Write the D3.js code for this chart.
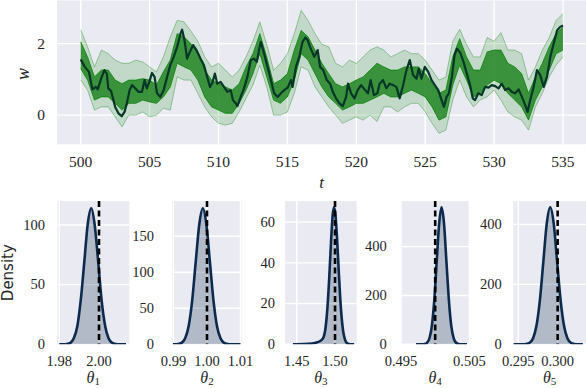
<!DOCTYPE html>
<html>
<head>
<meta charset="utf-8">
<script src="https://cdn.jsdelivr.net/npm/d3@7"></script>
<style>
  body { margin: 0; background: #fff; }
  svg { display: block; }
  svg text { font-family: "Liberation Serif", "DejaVu Serif", "Noto Serif", serif; }
  svg text.sans { font-family: "DejaVu Sans", "Noto Sans", sans-serif; }
</style>
</head>
<body>
<div id="chart"></div>
<script>
// ---- top panel: true path (dark line) ----
var trueT = [500.0, 500.3, 500.6, 500.85, 501.1, 501.24, 501.48, 501.72, 501.9, 502.0, 502.2, 502.5, 502.74, 502.98, 503.18, 503.35, 503.55, 503.72, 503.96, 504.2,
  504.44, 504.64, 504.8, 504.98, 505.17, 505.36, 505.54, 505.78, 506.02, 506.27, 506.5, 506.75, 507.0, 507.24, 507.36, 507.53, 507.72, 507.92, 508.16, 508.4,
  508.7, 508.94, 509.18, 509.38, 509.55, 509.74, 509.91, 510.15, 510.4, 510.64, 510.88, 511.05, 511.25, 511.37, 511.61, 511.85, 512.1, 512.34, 512.58, 512.78,
  512.94, 513.07, 513.31, 513.56, 513.8, 514.04, 514.29, 514.53, 514.77, 515.02, 515.26, 515.38, 515.62, 515.86, 516.1, 516.3, 516.47, 516.64, 516.95, 517.2,
  517.37, 517.6, 517.86, 518.1, 518.3, 518.53, 518.78, 519.02, 519.26, 519.4, 519.62, 519.87, 520.1, 520.35, 520.6, 520.85, 521.04, 521.28, 521.53, 521.69,
  521.94, 522.18, 522.42, 522.67, 522.91, 523.15, 523.4, 523.64, 523.88, 524.12, 524.37, 524.53, 524.73, 524.97, 525.22, 525.46, 525.7, 525.95, 526.19, 526.36,
  526.55, 526.72, 526.94, 527.13, 527.3, 527.54, 527.78, 528.02, 528.26, 528.45, 528.62, 528.86, 529.1, 529.35, 529.59, 529.83, 530.08, 530.32, 530.56, 530.8,
  531.05, 531.29, 531.53, 531.78, 532.02, 532.26, 532.43, 532.62, 532.87, 533.11, 533.35, 533.6, 533.84, 534.08, 534.32, 534.57, 534.81, 535.0];
var trueW = [1.56, 1.35, 1.21, 0.72, 0.79, 0.72, 1.02, 1.26, 1.15, 0.75, 0.68, 0.23, 0.05, -0.03, 0.09, 0.33, 0.70, 0.84, 0.75, 0.65,
  0.65, 0.98, 0.75, 0.93, 1.18, 1.07, 0.61, 0.51, 0.70, 1.07, 1.40, 1.63, 1.91, 2.28, 2.39, 2.10, 1.58, 1.77, 1.96, 1.82,
  1.58, 1.40, 1.07, 0.79, 0.90, 1.16, 0.88, 0.93, 0.79, 0.65, 0.70, 0.42, 0.33, 0.25, 0.51, 0.75, 1.07, 1.54, 1.58, 1.49,
  1.82, 2.05, 1.72, 1.35, 0.98, 0.61, 0.51, 0.61, 0.70, 0.77, 0.98, 0.79, 1.35, 1.63, 2.05, 2.17, 2.10, 1.91, 1.63, 1.82,
  1.35, 1.26, 0.98, 0.88, 0.65, 0.47, 0.33, 0.25, 0.51, 0.88, 0.61, 0.47, 0.70, 0.84, 0.72, 0.61, 0.98, 0.56, 0.61, 0.88,
  0.98, 0.75, 0.88, 0.84, 0.79, 0.47, 0.84, 1.26, 1.54, 1.12, 1.02, 1.30, 1.02, 1.35, 1.21, 0.98, 0.84, 0.70, 0.42, 0.23,
  0.51, 0.61, 1.07, 1.68, 1.86, 1.75, 1.49, 1.16, 0.84, 0.47, 0.42, 0.61, 0.56, 0.79, 0.77, 0.84, 0.81, 0.75, 0.88, 0.70,
  0.75, 0.65, 0.61, 0.72, 0.51, 0.28, 0.09, 0.42, 0.79, 1.26, 1.12, 0.79, 1.07, 1.63, 2.00, 2.37, 2.47, 2.51];

// ---- top panel: sample ensemble, read as envelopes every 0.5 ----
var bandT = [500, 500.5, 501, 501.5, 502, 502.5, 503, 503.5, 504, 504.5, 505, 505.5, 506, 506.5, 507, 507.5, 508, 508.5, 509, 509.5,
  510, 510.5, 511, 511.5, 512, 512.5, 513, 513.5, 514, 514.5, 515, 515.5, 516, 516.5, 517, 517.5, 518, 518.5, 519, 519.5,
  520, 520.5, 521, 521.5, 522, 522.5, 523, 523.5, 524, 524.5, 525, 525.5, 526, 526.5, 527, 527.5, 528, 528.5, 529, 529.5,
  530, 530.5, 531, 531.5, 532, 532.5, 533, 533.5, 534, 534.5, 535];
var outerHi = [2.39, 1.91, 1.35, 1.82, 1.72, 1.54, 1.45, 1.45, 1.54, 1.49, 1.35, 1.21, 1.63, 2.19, 2.65, 2.61, 2.35, 2.07, 1.63, 1.35,
  1.45, 1.26, 1.07, 1.26, 1.63, 2.07, 2.61, 1.98, 1.26, 1.45, 1.72, 2.28, 2.93, 2.65, 2.28, 1.98, 1.91, 1.45, 1.35, 1.54,
  1.45, 1.63, 1.82, 1.91, 1.82, 1.63, 1.72, 1.82, 1.72, 1.72, 1.54, 1.26, 0.98, 1.07, 2.07, 2.40, 1.98, 1.63, 1.63, 2.17,
  2.07, 2.31, 1.82, 1.82, 1.72, 0.98, 1.35, 1.82, 2.17, 2.65, 2.84];
var outerLo = [0.98, 0.70, 0.14, 0.23, 0.23, -0.05, -0.33, 0.00, 0.00, 0.09, -0.05, 0.00, 0.19, 0.14, 1.07, 0.98, 0.98, 0.61, 0.23, -0.05,
  -0.23, -0.28, -0.23, 0.09, 0.47, 0.84, 1.40, 0.79, 0.00, 0.00, 0.09, 0.61, 1.35, 1.26, 0.79, 0.51, 0.23, 0.00, -0.23, -0.14,
  -0.05, -0.14, 0.00, -0.18, 0.23, 0.23, 0.09, 0.23, 0.33, 0.33, 0.09, -0.23, -0.51, -0.42, 0.42, 0.98, 0.51, 0.23, 0.42, 0.51,
  0.70, 0.42, 0.09, -0.05, -0.14, -0.42, 0.23, 0.61, 1.07, 1.40, 1.63];
var coreHi = [2.05, 1.63, 1.07, 1.26, 1.26, 0.98, 0.88, 0.98, 0.98, 1.02, 0.98, 0.84, 1.21, 1.54, 2.28, 2.19, 2.00, 1.72, 1.26, 0.98,
  0.88, 0.79, 0.70, 0.88, 1.35, 1.72, 2.28, 1.63, 0.88, 0.98, 1.16, 1.82, 2.37, 2.19, 1.82, 1.45, 1.16, 0.88, 0.79, 0.88,
  0.98, 1.07, 1.26, 1.45, 1.35, 1.26, 1.26, 1.35, 1.35, 1.35, 1.16, 0.88, 0.61, 0.70, 1.63, 2.14, 1.63, 1.26, 1.26, 1.77,
  1.82, 1.82, 1.45, 1.35, 1.16, 0.61, 1.07, 1.45, 1.91, 2.28, 2.46];
var coreLo = [1.30, 0.98, 0.42, 0.51, 0.51, 0.33, 0.14, 0.33, 0.33, 0.42, 0.37, 0.33, 0.51, 0.79, 1.45, 1.35, 1.26, 0.98, 0.51, 0.23,
  0.14, 0.05, 0.05, 0.33, 0.70, 1.16, 1.72, 1.07, 0.42, 0.33, 0.51, 0.98, 1.72, 1.54, 1.16, 0.79, 0.51, 0.33, 0.14, 0.23,
  0.33, 0.33, 0.42, 0.51, 0.61, 0.51, 0.51, 0.61, 0.70, 0.61, 0.51, 0.23, -0.14, -0.05, 0.84, 1.40, 0.98, 0.51, 0.61, 0.84,
  0.98, 0.88, 0.61, 0.42, 0.23, -0.14, 0.42, 0.79, 1.26, 1.72, 1.82];
var topXTicks = [500, 505, 510, 515, 520, 525, 530, 535];
var topYTicks = [0, 2];

// ---- bottom panels: posterior densities ----
var theta1X = [1.9800, 1.9821, 1.9838, 1.9856, 1.9873, 1.9891, 1.9908, 1.9926, 1.9943, 1.9961, 1.9978, 1.9996, 2.0013, 2.0031, 2.0048, 2.0066, 2.0083, 2.0101, 2.0136];
var theta1D = [0, 0.03, 0.25, 1.25, 5.0, 15.4, 37.0, 69.2, 100.5, 114, 100.5, 69.2, 37.0, 15.4, 5.0, 1.25, 0.25, 0.03, 0];
var theta2X = [0.9898, 0.99031, 0.99137, 0.99242, 0.99348, 0.99453, 0.99559, 0.99664, 0.99770, 0.99875, 0.99981, 1.00086, 1.00192, 1.00297, 1.00403, 1.00508, 1.00614, 1.00719, 1.0100];
var theta2D = [0, 0.06, 0.42, 2.08, 8.3, 25.5, 61.4, 114.7, 166.7, 189, 166.7, 114.7, 61.4, 25.5, 8.3, 2.08, 0.42, 0.06, 0];
var theta3X = [1.4450, 1.4600, 1.4700, 1.4760, 1.4800, 1.4840, 1.4855, 1.4870, 1.4900, 1.4925, 1.4950, 1.4970, 1.4987, 1.5005, 1.5025, 1.5045, 1.5065, 1.5085, 1.5105, 1.5130, 1.5160, 1.5200, 1.5250];
var theta3D = [0, 0.1, 0.4, 0.9, 1.5, 2.8, 4.0, 6.5, 17.5, 33, 52, 63.7, 67.3, 63.7, 53, 38.7, 24.5, 13.8, 6.7, 2.3, 0.43, 0.03, 0];
var theta4X = [0.49720, 0.49809, 0.49845, 0.49880, 0.49916, 0.49951, 0.49987, 0.50022, 0.50058, 0.50093, 0.50129, 0.50164, 0.50200, 0.50235, 0.50271, 0.50306, 0.50342, 0.50377, 0.50465];
var theta4D = [0, 0.17, 1.2, 6.2, 24.7, 75.7, 182.3, 340.5, 494.8, 561, 494.8, 340.5, 182.3, 75.7, 24.7, 6.2, 1.2, 0.17, 0];
var theta5X = [0.29440, 0.29557, 0.29600, 0.29644, 0.29688, 0.29731, 0.29775, 0.29819, 0.29862, 0.29906, 0.29950, 0.29993, 0.30037, 0.30081, 0.30124, 0.30168, 0.30212, 0.30255, 0.30320];
var theta5D = [0, 0.14, 1.0, 5.0, 20.1, 61.7, 148.5, 277.4, 403.1, 457, 403.1, 277.4, 148.5, 61.7, 20.1, 5.0, 1.0, 0.14, 0];
var trueTheta = [2.0, 1.0, 1.5, 0.5, 0.3];
var thetaXTicks = [[1.98, 2.00], [0.99, 1.00, 1.01], [1.45, 1.50], [0.495, 0.505], [0.295, 0.300]];
var thetaYTicks = [[0, 50, 100], [0, 50, 100, 150], [0, 20, 40, 60], [0, 200, 400], [0, 200, 400]];

var width = 586, height = 388;
var bg = "#eaeaf2";
var navy = "#0b2a4d";
var ink = "#262626";

var svg = d3.select("#chart").append("svg")
    .attr("width", width)
    .attr("height", height);

// ===== top panel =====
var box = { left: 57, right: 586, top: 0.5, bottom: 144.3 };
var x = d3.scaleLinear().domain([498.28, 536.67]).range([box.left, box.right]);
var y = d3.scaleLinear().domain([-0.817, 3.208]).range([box.bottom, box.top]);

svg.append("rect")
    .attr("x", box.left).attr("y", box.top)
    .attr("width", box.right - box.left).attr("height", box.bottom - box.top)
    .attr("fill", bg);

var gTop = svg.append("g");
gTop.selectAll(".vgrid").data(topXTicks).enter().append("line")
    .attr("x1", d => x(d)).attr("x2", d => x(d))
    .attr("y1", box.top).attr("y2", box.bottom)
    .attr("stroke", "#fff").attr("stroke-width", 1.4);
gTop.selectAll(".hgrid").data(topYTicks).enter().append("line")
    .attr("x1", box.left).attr("x2", box.right)
    .attr("y1", d => y(d)).attr("y2", d => y(d))
    .attr("stroke", "#fff").attr("stroke-width", 1.4);

var band = bandT.map((t, i) => ({ t: t, oh: outerHi[i], ol: outerLo[i], ch: coreHi[i], cl: coreLo[i] }));

gTop.append("path").datum(band)
    .attr("d", d3.area().x(d => x(d.t)).y0(d => y(d.ol)).y1(d => y(d.oh)))
    .attr("fill", "green").attr("fill-opacity", 0.17);
gTop.append("path").datum(band)
    .attr("d", d3.area().x(d => x(d.t)).y0(d => y(d.cl)).y1(d => y(d.ch)))
    .attr("fill", "#157d15").attr("fill-opacity", 0.78);

// thin edges to give the sample lines some texture
[["oh", 0.5, 0.7], ["ol", 0.5, 0.7], ["ch", 0.75, 1], ["cl", 0.75, 1]].forEach(function (k) {
    gTop.append("path").datum(band)
        .attr("d", d3.line().x(d => x(d.t)).y(d => y(d[k[0]])))
        .attr("fill", "none")
        .attr("stroke", "green")
        .attr("stroke-opacity", k[1])
        .attr("stroke-width", k[2]);
});

var truePts = trueT.map((t, i) => [t, trueW[i]]);
gTop.append("path").datum(truePts)
    .attr("d", d3.line().x(d => x(d[0])).y(d => y(d[1])))
    .attr("fill", "none")
    .attr("stroke", "#053628")
    .attr("stroke-width", 2.2)
    .attr("stroke-linejoin", "round");

gTop.selectAll(".xlab").data(topXTicks).enter().append("text")
    .attr("x", d => x(d)).attr("y", 166.5)
    .attr("text-anchor", "middle")
    .attr("font-size", 15.5)
    .attr("fill", ink)
    .text(d => d);
gTop.selectAll(".ylab").data(topYTicks).enter().append("text")
    .attr("x", 45).attr("y", d => y(d) + 5)
    .attr("text-anchor", "end")
    .attr("font-size", 15.5)
    .attr("fill", ink)
    .text(d => d);

svg.append("text")
    .attr("x", (box.left + box.right) / 2).attr("y", 187.5)
    .attr("text-anchor", "middle")
    .attr("font-size", 17).attr("font-style", "italic")
    .attr("fill", ink)
    .text("t");
svg.append("text")
    .attr("transform", "translate(29,74) rotate(-90)")
    .attr("text-anchor", "middle")
    .attr("font-size", 18).attr("font-style", "italic")
    .attr("fill", ink)
    .text("w");

// ===== bottom panels =====
var lefts = [57.3, 172.5, 285, 400.7, 513.3];
var rights = [129.3, 241.5, 356.7, 469.5, 586];
var xDomains = [[1.97899, 2.01526], [0.9897, 1.0103], [1.4347, 1.5283], [0.49495, 0.50502], [0.29437, 0.30360]];
var yMax = [120.1, 199, 70.4, 587, 478];
var labelPad = [12.3, 18.5, 10, 14, 11.6];
var tickFmt = [".2f", ".2f", ".2f", ".3f", ".3f"];
var thetaX = [theta1X, theta2X, theta3X, theta4X, theta5X];
var thetaD = [theta1D, theta2D, theta3D, theta4D, theta5D];
var pTop = 201, pBottom = 344.3;

for (let i = 0; i < 5; i++) {
    let xs = d3.scaleLinear().domain(xDomains[i]).range([lefts[i], rights[i]]);
    let ys = d3.scaleLinear().domain([0, yMax[i]]).range([pBottom, pTop]);
    let g = svg.append("g");

    g.append("clipPath").attr("id", "clip" + i)
        .append("rect")
        .attr("x", lefts[i]).attr("y", pTop)
        .attr("width", rights[i] - lefts[i]).attr("height", pBottom - pTop);

    g.append("rect")
        .attr("x", lefts[i]).attr("y", pTop)
        .attr("width", rights[i] - lefts[i]).attr("height", pBottom - pTop)
        .attr("fill", bg);

    g.selectAll(".vg").data(thetaXTicks[i]).enter().append("line")
        .attr("x1", d => xs(d)).attr("x2", d => xs(d))
        .attr("y1", pTop).attr("y2", pBottom)
        .attr("stroke", "#fff").attr("stroke-width", 1.4);
    g.selectAll(".hg").data(thetaYTicks[i]).enter().append("line")
        .attr("x1", lefts[i]).attr("x2", rights[i])
        .attr("y1", d => ys(d)).attr("y2", d => ys(d))
        .attr("stroke", "#fff").attr("stroke-width", 1.4);

    let pts = thetaX[i].map((v, j) => [v, thetaD[i][j]]);
    let inner = g.append("g").attr("clip-path", "url(#clip" + i + ")");
    inner.append("path").datum(pts)
        .attr("d", d3.area().x(d => xs(d[0])).y0(ys(0)).y1(d => ys(d[1])).curve(d3.curveMonotoneX))
        .attr("fill", navy).attr("fill-opacity", 0.25);
    inner.append("path").datum(pts)
        .attr("d", d3.line().x(d => xs(d[0])).y(d => ys(d[1])).curve(d3.curveMonotoneX))
        .attr("fill", "none")
        .attr("stroke", navy)
        .attr("stroke-width", 2.6)
        .attr("stroke-linejoin", "round");
    inner.append("line")
        .attr("x1", xs(trueTheta[i])).attr("x2", xs(trueTheta[i]))
        .attr("y1", pTop).attr("y2", pBottom)
        .attr("stroke", "#000")
        .attr("stroke-width", 2.6)
        .attr("stroke-dasharray", "6,3.5");

    g.selectAll(".xl").data(thetaXTicks[i]).enter().append("text")
        .attr("x", d => xs(d)).attr("y", 365.5)
        .attr("text-anchor", "middle")
        .attr("font-size", 14.5)
        .attr("fill", ink)
        .text(d => d3.format(tickFmt[i])(d));
    g.selectAll(".yl").data(thetaYTicks[i]).enter().append("text")
        .attr("x", lefts[i] - labelPad[i]).attr("y", d => ys(d) + 4.8)
        .attr("text-anchor", "end")
        .attr("font-size", 14.5)
        .attr("fill", ink)
        .text(d => d);

    let lab = g.append("text")
        .attr("x", (lefts[i] + rights[i]) / 2).attr("y", 383)
        .attr("text-anchor", "middle")
        .attr("font-size", 16)
        .attr("fill", ink);
    lab.append("tspan").attr("font-style", "italic").text("θ");
    lab.append("tspan").attr("dy", 2).attr("font-size", 11).text(i + 1);
}

svg.append("text")
    .attr("class", "sans")
    .attr("transform", "translate(12.5," + ((pTop + pBottom) / 2) + ") rotate(-90)")
    .attr("text-anchor", "middle")
    .attr("font-size", 15)
    .attr("fill", ink)
    .text("Density");
</script>
</body>
</html>
